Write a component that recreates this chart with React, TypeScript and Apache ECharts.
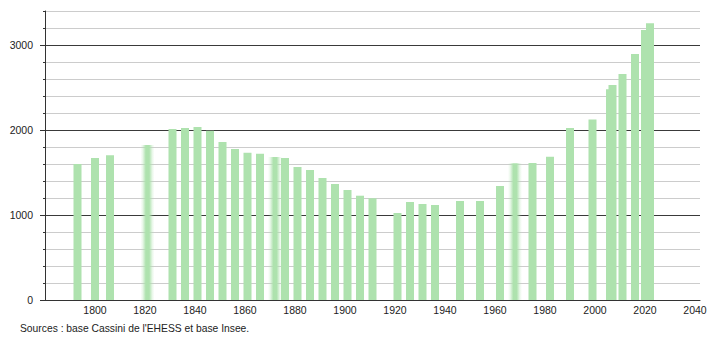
import React, { useEffect, useRef } from "react";
import * as echarts from "echarts";

const years = [1793, 1800, 1806, 1831, 1836, 1841, 1846, 1851, 1856, 1861, 1866, 1876, 1881, 1886, 1891, 1896, 1901, 1906, 1911, 1921, 1926, 1931, 1936, 1946, 1954, 1962, 1975, 1982, 1990, 1999, 2006, 2007, 2011, 2016, 2020, 2022];
const population = [1600, 1671, 1702, 2012, 2024, 2035, 1992, 1859, 1776, 1731, 1720, 1671, 1565, 1529, 1435, 1365, 1294, 1227, 1196, 1024, 1153, 1129, 1118, 1165, 1165, 1341, 1612, 1684, 2024, 2125, 2479, 2529, 2659, 2894, 3176, 3255];
const fuzzyYears = [1821, 1872, 1968];
const fuzzyPopulation = [1824, 1682, 1608];
const yLabelValues = [0, 1000, 2000, 3000];
const xLabelValues = [1800, 1820, 1840, 1860, 1880, 1900, 1920, 1940, 1960, 1980, 2000, 2020, 2040];
const sourceText = "Sources : base Cassini de l'EHESS et base Insee.";

const BAR = "#aee2ae";
const FONT = "'Liberation Sans', Arial, sans-serif";

export default function App() {
  const ref = useRef<HTMLDivElement>(null);
  useEffect(() => {
    if (!ref.current) return;
    const chart = echarts.init(ref.current, null, { renderer: "svg" });
    const xBase = {
      type: "value",
      min: 1780,
      max: 2042,
      interval: 20,
    };
    chart.setOption({
      animation: false,
      grid: { left: 45, right: 10, top: 11, bottom: 40 },
      xAxis: [
        {
          ...xBase,
          axisLine: { show: true, lineStyle: { color: "#333", width: 1 } },
          axisTick: { show: false },
          splitLine: { show: false },
          axisLabel: {
            color: "#222",
            fontSize: 10.5,
            fontFamily: FONT,
            margin: 4,
            showMinLabel: true,
            showMaxLabel: true,
            formatter: (v: number) => (xLabelValues.includes(v) ? String(v) : ""),
          },
        },
        { ...xBase, show: false },
      ],
      yAxis: [
        {
          type: "value",
          min: 0,
          max: 3400,
          interval: 200,
          axisLine: { show: true, lineStyle: { color: "#333", width: 1 } },
          axisTick: { show: true, length: 2, lineStyle: { color: "#333" } },
          axisLabel: {
            color: "#222",
            fontSize: 10.5,
            fontFamily: FONT,
            margin: 12,
            formatter: (v: number) => (yLabelValues.includes(v) ? String(v) : ""),
          },
          splitLine: {
            show: true,
            lineStyle: { color: ["#3a3a3a", "#cccccc", "#cccccc", "#cccccc", "#cccccc"], width: 1 },
          },
        },
        {
          type: "value",
          min: 0,
          max: 3400,
          position: "left",
          axisLine: { show: false },
          axisTick: { show: true, length: 5, customValues: yLabelValues, lineStyle: { color: "#333" } },
          axisLabel: { show: false },
          splitLine: { show: false },
        },
      ],
      graphic: [
        {
          type: "text",
          left: 20,
          top: 323,
          style: { text: sourceText, fill: "#222", font: `10.3px ${FONT}` },
        },
      ],
      series: [
        {
          type: "bar",
          xAxisIndex: 0,
          yAxisIndex: 0,
          barWidth: 8,
          itemStyle: { color: BAR },
          data: years.map((y, i) => [y, population[i]]),
        },
        {
          type: "bar",
          xAxisIndex: 1,
          yAxisIndex: 0,
          barWidth: 14,
          itemStyle: {
            color: new echarts.graphic.LinearGradient(0, 0, 1, 0, [
              { offset: 0, color: "rgba(174,226,174,0)" },
              { offset: 0.15, color: "rgba(174,226,174,0.25)" },
              { offset: 0.38, color: BAR },
              { offset: 0.62, color: BAR },
              { offset: 0.85, color: "rgba(174,226,174,0.25)" },
              { offset: 1, color: "rgba(174,226,174,0)" },
            ]),
          },
          data: fuzzyYears.map((y, i) => [y, fuzzyPopulation[i]]),
        },
      ],
    });
    return () => chart.dispose();
  }, []);
  return (
    <div
      ref={ref}
      style={{ position: "fixed", left: 0, top: 0, width: 710, height: 340, background: "#fff" }}
    />
  );
}
